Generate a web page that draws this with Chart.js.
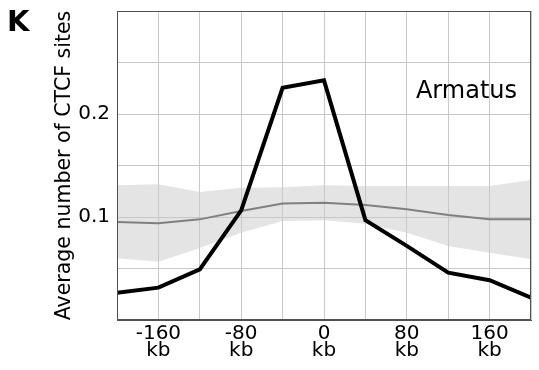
<!DOCTYPE html>
<html>
<head>
<meta charset="utf-8">
<script src="https://cdn.jsdelivr.net/npm/chart.js@4.4.0/dist/chart.umd.min.js"></script>
<style>
  html, body { margin: 0; padding: 0; background: #fff; }
  #wrap { width: 539px; height: 370px; }
</style>
</head>
<body>
<div id="wrap"><canvas id="ctcfChart" width="539" height="370"></canvas></div>
<script>
// distance from boundary (kb) and average CTCF sites per bin
const positions   = [-200, -160, -120, -80, -40, 0, 40, 80, 120, 160, 200];
const armatus     = [0.0265, 0.0314, 0.0492, 0.1065, 0.2255, 0.2327, 0.097, 0.072, 0.046, 0.0386, 0.0217];
const randomMean  = [0.0951, 0.094, 0.0977, 0.1058, 0.113, 0.1139, 0.1117, 0.1075, 0.102, 0.0977, 0.0977];
const randomUpper = [0.1308, 0.1317, 0.1243, 0.1285, 0.129, 0.1308, 0.130, 0.130, 0.130, 0.130, 0.136];
const randomLower = [0.060, 0.0566, 0.070, 0.0848, 0.096, 0.0968, 0.0935, 0.0848, 0.0718, 0.0653, 0.059];

const xTickValues = [-160, -80, 0, 80, 160];
const xTickLabels = ['-160', '-80', '0', '80', '160'];
const yTickValues = [0.1, 0.2];
const yTickLabels = ['0.1', '0.2'];

const FONT = "'DejaVu Sans', sans-serif";

function toPoints(values) {
    return values.map((v, i) => ({ x: positions[i], y: v }));
}

function findLabel(value, values, labels) {
    const i = values.findIndex(v => Math.abs(v - value) < 1e-9);
    return i === -1 ? '' : labels[i];
}

// box round the plot + panel letter + method name
const frameAndText = {
    id: 'frameAndText',
    afterDraw(chart) {
        const { ctx, chartArea: a } = chart;
        ctx.save();
        ctx.strokeStyle = '#505050';
        ctx.lineWidth = 1;
        ctx.strokeRect(a.left + 0.5, a.top + 0.5, a.right - a.left - 1, a.bottom - a.top - 1);

        ctx.fillStyle = '#000';
        ctx.font = "bold 29px " + FONT;
        ctx.textBaseline = 'alphabetic';
        ctx.textAlign = 'left';
        ctx.fillText('K', 7, 31);

        ctx.font = "24px " + FONT;
        ctx.textAlign = 'right';
        ctx.fillText('Armatus', a.right - 14, a.top + 87);
        ctx.restore();
    }
};

new Chart(document.getElementById('ctcfChart'), {
    type: 'line',
    data: {
        datasets: [
            {
                label: 'Armatus',
                data: toPoints(armatus),
                borderColor: '#000',
                borderWidth: 4,
                pointRadius: 0,
                tension: 0,
                fill: false
            },
            {
                label: 'Random',
                data: toPoints(randomMean),
                borderColor: '#808080',
                borderWidth: 2,
                pointRadius: 0,
                tension: 0,
                fill: false
            },
            {
                label: 'upper',
                data: toPoints(randomUpper),
                borderWidth: 0,
                pointRadius: 0,
                tension: 0,
                backgroundColor: '#e4e4e4',
                fill: '+1'
            },
            {
                label: 'lower',
                data: toPoints(randomLower),
                borderWidth: 0,
                pointRadius: 0,
                tension: 0,
                fill: false
            }
        ]
    },
    options: {
        responsive: false,
        animation: false,
        layout: { padding: { left: 52, top: 11, right: 8, bottom: 0 } },
        plugins: {
            legend: { display: false },
            tooltip: { enabled: false },
            filler: { drawTime: 'beforeDraw' }
        },
        scales: {
            x: {
                type: 'linear',
                min: -200,
                max: 200,
                afterFit: s => { s.height = 50; s.paddingLeft = 0; s.paddingRight = 0; },
                grid: { color: '#c8c8c8', lineWidth: 1, drawTicks: false },
                border: { display: true, color: '#505050', width: 1 },
                ticks: {
                    stepSize: 40,
                    autoSkip: false,
                    maxRotation: 0,
                    padding: 5,
                    color: '#000',
                    font: { family: FONT, size: 20, lineHeight: 0.85 },
                    callback: function(value) {
                        const t = findLabel(value, xTickValues, xTickLabels);
                        return t === '' ? '' : [t, 'kb'];
                    }
                }
            },
            y: {
                min: 0,
                max: 0.3,
                afterFit: s => { s.width = 65; s.paddingTop = 0; s.paddingBottom = 0; },
                grid: { color: '#c8c8c8', lineWidth: 1, drawTicks: false },
                border: { display: true, color: '#505050', width: 1 },
                title: {
                    display: true,
                    text: 'Average number of CTCF sites',
                    color: '#000',
                    padding: 0,
                    font: { family: FONT, size: 20.5 }
                },
                ticks: {
                    stepSize: 0.05,
                    autoSkip: false,
                    padding: 7,
                    color: '#000',
                    font: { family: FONT, size: 20 },
                    callback: value => findLabel(value, yTickValues, yTickLabels)
                }
            }
        }
    },
    plugins: [frameAndText]
});
</script>
</body>
</html>
